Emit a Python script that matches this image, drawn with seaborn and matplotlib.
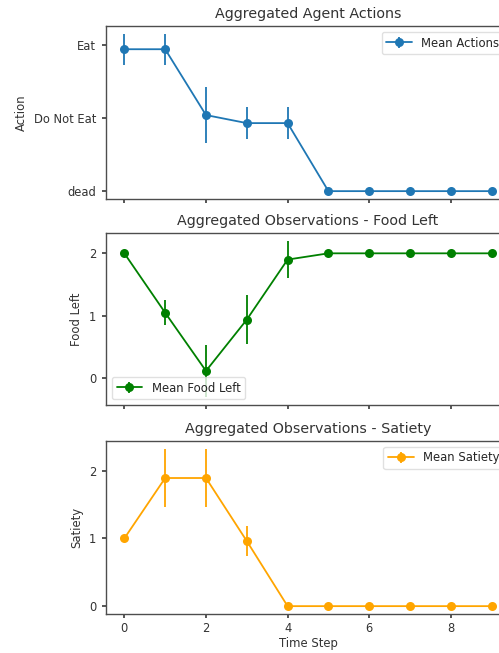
import matplotlib
matplotlib.use("Agg")
import matplotlib.pyplot as plt
from matplotlib.container import ErrorbarContainer
import numpy as np
import pandas as pd
import seaborn as sns

# Time steps shared by all three panels
time_steps = [0, 1, 2, 3, 4, 5, 6, 7, 8, 9]

# Agent actions (0 = dead, 1 = Do Not Eat, 2 = Eat)
action_mean = [1.94, 1.94, 1.04, 0.93, 0.93, 0.0, 0.0, 0.0, 0.0, 0.0]
action_err = [0.21, 0.21, 0.38, 0.22, 0.22, 0.0, 0.0, 0.0, 0.0, 0.0]
action_ticks = [0, 1, 2]
action_labels = ["dead", "Do Not Eat", "Eat"]

# Observed food left
food_mean = [2.0, 1.05, 0.12, 0.94, 1.9, 2.0, 2.0, 2.0, 2.0, 2.0]
food_err = [0.0, 0.2, 0.42, 0.39, 0.3, 0.0, 0.0, 0.0, 0.0, 0.0]

# Observed satiety
satiety_mean = [1.0, 1.89, 1.89, 0.96, 0.0, 0.0, 0.0, 0.0, 0.0, 0.0]
satiety_err = [0.0, 0.43, 0.43, 0.22, 0.0, 0.0, 0.0, 0.0, 0.0, 0.0]

sns.set_theme(style="ticks")
plt.rcParams["font.family"] = ["DejaVu Sans"]
plt.rcParams.update({
    "axes.edgecolor": "0.25",
    "axes.linewidth": 1.0,
    "xtick.major.size": 3,
    "ytick.major.size": 3,
    "xtick.color": "0.25",
    "ytick.color": "0.25",
    "xtick.labelcolor": "0.2",
    "ytick.labelcolor": "0.2",
})

W, H = 499, 653
fig = plt.figure(figsize=(W / 100, H / 100), dpi=100)


def px_axes(top, bottom, left=106, right=510):
    return fig.add_axes([left / W, (H - bottom) / H, (right - left) / W, (bottom - top) / H])


def panel(ax, mean, err, color, label, title, ylabel, loc):
    df = pd.DataFrame({"t": time_steps, "v": mean})
    sns.lineplot(data=df, x="t", y="v", ax=ax, color=color, marker="o",
                 markersize=6.5, markeredgewidth=0, linewidth=1.3, legend=False)
    eb = ax.errorbar(time_steps, mean, yerr=err, fmt="none", ecolor=color,
                     elinewidth=1.3, capsize=0)
    handle = ErrorbarContainer((ax.lines[0], eb.lines[1], eb.lines[2]),
                               has_xerr=False, has_yerr=True)
    ax.legend([handle], [label], loc=loc, fontsize=8.4, frameon=True,
              edgecolor="0.85", fancybox=True, handlelength=2.2)
    ax.set_title(title, fontsize=10.3, color="0.2")
    ax.set_ylabel(ylabel, fontsize=8.4, color="0.2")
    ax.set_xlabel("")
    ax.set_xticks([0, 2, 4, 6, 8])
    ax.tick_params(axis="y", labelsize=8.3, pad=4)
    ax.tick_params(axis="x", labelsize=8.3, pad=2.5)
    for s in ax.spines.values():
        s.set_color("0.3")


ax1 = px_axes(26, 199)
ax2 = px_axes(233, 405)
ax3 = px_axes(441, 614)

panel(ax1, action_mean, action_err, "#1f77b4", "Mean Actions",
      "Aggregated Agent Actions", "Action", "upper right")
ax1.set_yticks(action_ticks)
ax1.set_yticklabels(action_labels)

panel(ax2, food_mean, food_err, "green", "Mean Food Left",
      "Aggregated Observations - Food Left", "Food Left", "lower left")
ax2.set_yticks([0, 1, 2])

panel(ax3, satiety_mean, satiety_err, "orange", "Mean Satiety",
      "Aggregated Observations - Satiety", "Satiety", "upper right")
ax3.set_yticks([0, 1, 2])
ax3.set_xlabel("Time Step", fontsize=8.4, color="0.2", labelpad=1.5)

for ax in (ax1, ax2):
    ax.set_xticklabels([])

fig.savefig("out.png", dpi=100)
